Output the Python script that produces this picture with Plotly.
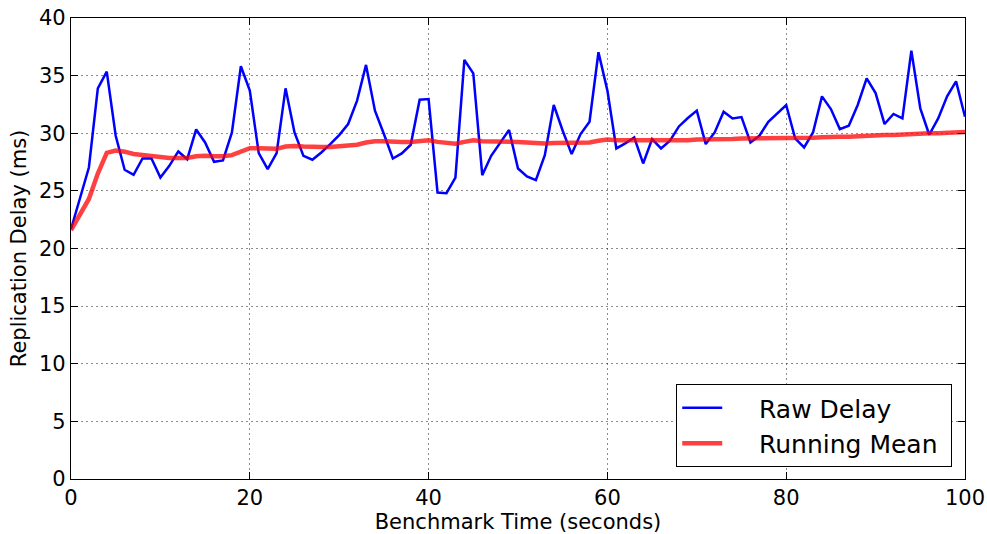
import plotly.graph_objects as go

x_seconds = list(range(0, 101))

raw_delay = [
    21.67, 24.4, 27.03, 33.9, 35.35, 29.78, 26.83, 26.39, 27.81, 27.81,
    26.16, 27.17, 28.42, 27.75, 30.33, 29.2, 27.52, 27.64, 30.07, 35.81,
    33.7, 28.28, 26.88, 28.28, 33.9, 30.07, 28.04, 27.7, 28.33, 29.06,
    29.84, 30.8, 32.83, 35.93, 31.96, 29.93, 27.81, 28.25, 29.0, 32.91,
    32.97, 24.86, 24.8, 26.16, 36.36, 35.2, 26.36, 28.04, 29.12, 30.28,
    26.94, 26.25, 25.93, 28.1, 32.45, 30.22, 28.19, 29.93, 31.0, 37.03,
    33.7, 28.68, 29.12, 29.64, 27.38, 29.49, 28.68, 29.35, 30.59, 31.32,
    31.96, 29.06, 30.07, 31.87, 31.29, 31.4, 29.2, 29.78, 31.0, 31.72,
    32.45, 29.55, 28.77, 30.07, 33.2, 32.1, 30.36, 30.65, 32.45, 34.77,
    33.49, 30.8, 31.67, 31.29, 37.17, 32.16, 29.87, 31.29, 33.2, 34.5,
    31.43,
]

running_mean = [
    21.6, 23.0, 24.3, 26.5, 28.3, 28.5, 28.4, 28.2, 28.1, 28.05,
    27.9, 27.85, 27.85, 27.85, 28.0, 28.05, 28.0, 28.0, 28.1, 28.45,
    28.7, 28.7, 28.65, 28.65, 28.85, 28.9, 28.85, 28.8, 28.8, 28.8,
    28.85, 28.9, 29.0, 29.2, 29.3, 29.3, 29.25, 29.25, 29.25, 29.35,
    29.4, 29.25, 29.15, 29.1, 29.25, 29.4, 29.3, 29.3, 29.3, 29.3,
    29.25, 29.2, 29.15, 29.1, 29.15, 29.15, 29.15, 29.15, 29.2, 29.35,
    29.45, 29.4, 29.4, 29.4, 29.35, 29.35, 29.35, 29.35, 29.4, 29.4,
    29.45, 29.45, 29.45, 29.5, 29.5, 29.55, 29.55, 29.55, 29.55, 29.6,
    29.6, 29.6, 29.6, 29.6, 29.65, 29.7, 29.7, 29.7, 29.75, 29.8,
    29.85, 29.85, 29.85, 29.9, 29.95, 30.0, 30.0, 30.0, 30.05, 30.1,
    30.1,
]

x_ticks = [0, 20, 40, 60, 80, 100]
y_ticks = [0, 5, 10, 15, 20, 25, 30, 35, 40]

FONT = "DejaVu Sans"
FS = 21
PAD = "\u00a0" * 4

fig = go.Figure()
fig.add_trace(go.Scatter(
    x=x_seconds, y=raw_delay, mode="lines", name=PAD + "Raw Delay",
    line=dict(color="#0000ff", width=2.5),
))
fig.add_trace(go.Scatter(
    x=x_seconds, y=running_mean, mode="lines", name=PAD + "Running Mean\u00a0",
    line=dict(color="rgba(255,0,0,0.75)", width=4.5),
))

axis_common = dict(
    showline=True, linecolor="black", linewidth=1.3, mirror="ticks",
    ticks="inside", ticklen=7, tickcolor="black", tickwidth=1,
    showgrid=True, gridcolor="rgba(0,0,0,0.45)", griddash="2px,3px", gridwidth=1,
    zeroline=False, automargin=False,
    tickfont=dict(family=FONT, size=FS, color="black"),
)

fig.update_xaxes(
    range=[0, 100], tickvals=x_ticks, ticktext=[str(v) for v in x_ticks],
    title=dict(text="Benchmark Time (seconds)", font=dict(family=FONT, size=FS, color="black"), standoff=4),
    **axis_common,
)
fig.update_yaxes(
    range=[0, 40], tickvals=y_ticks, ticktext=[str(v) for v in y_ticks],
    title=dict(text="Replication Delay (ms)", font=dict(family=FONT, size=FS, color="black"), standoff=6),
    **axis_common,
)

fig.update_layout(
    width=987, height=534,
    margin=dict(l=71, r=22, t=18, b=55),
    paper_bgcolor="white", plot_bgcolor="white",
    font=dict(family=FONT, color="black"),
    legend=dict(
        x=0.677, y=0.026, xanchor="left", yanchor="bottom",
        bgcolor="white", bordercolor="black", borderwidth=1,
        font=dict(family=FONT, size=25, color="black"),
        itemwidth=40,
    ),
)

fig.write_html("out.html")
